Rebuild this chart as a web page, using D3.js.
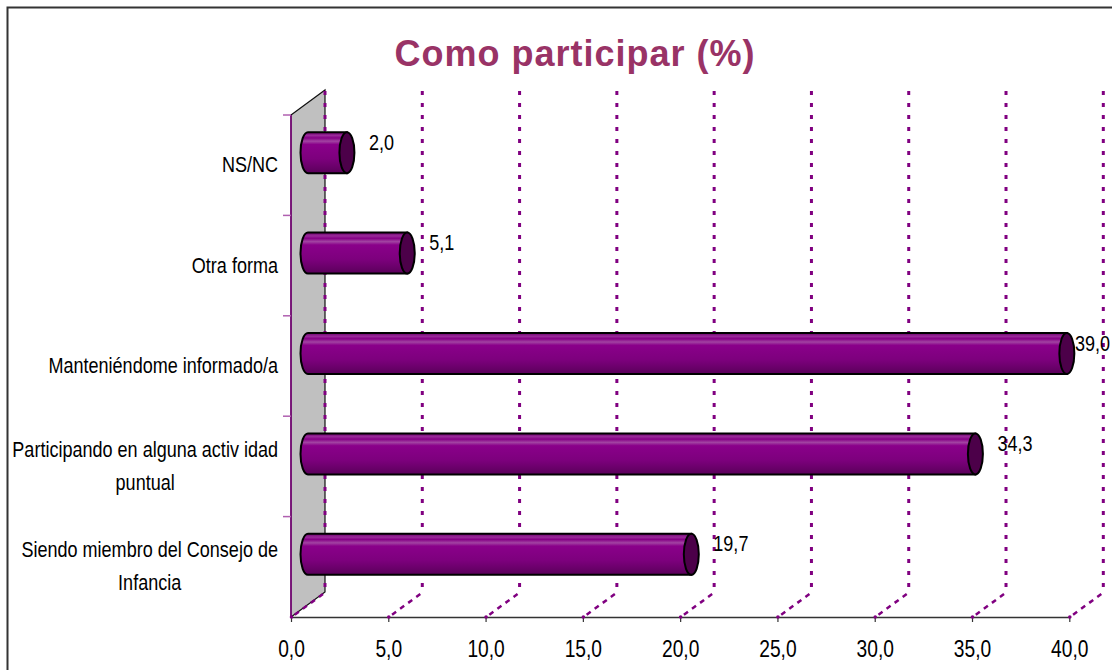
<!DOCTYPE html>
<html>
<head>
<meta charset="utf-8">
<script src="https://cdn.jsdelivr.net/npm/d3@7"></script>
<style>
  body { margin: 0; background: #fff; }
  svg { display: block; font-family: "Liberation Sans", Arial, sans-serif; }
</style>
</head>
<body>
<svg width="1112" height="670"></svg>
<script>
// data, bottom to top as in the spreadsheet
var categories = [
  "Siendo miembro del Consejo de\nInfancia",
  "Participando en alguna activ idad\npuntual",
  "Manteniéndome informado/a",
  "Otra forma",
  "NS/NC"
];
var values = [19.7, 34.3, 39.0, 5.1, 2.0];
var xTicks = [0, 5, 10, 15, 20, 25, 30, 35, 40];
var title = "Como participar (%)";

var svg = d3.select("svg"),
    purple = "#800080",
    depth = {x: 34, y: -25},
    narrow = 0.82;

var locale = d3.formatLocale({decimal: ",", thousands: ".", grouping: [3], currency: ["", "€"]});
var fmt = locale.format(".1f");

var x = d3.scaleLinear().domain([0, 40]).range([291, 1069.3]);
var y = d3.scaleBand().domain(categories.slice().reverse()).range([115, 617]);
var yTop = y.range()[0], yBottom = y.range()[1];

var defs = svg.append("defs");
var grad = defs.append("linearGradient").attr("id", "cyl")
    .attr("x1", 0).attr("y1", 0).attr("x2", 0).attr("y2", 1);
[[0, "#6a006a"], [0.08, "#9a2a9a"], [0.14, "#860086"], [0.22, "#a243a2"], [0.3, "#8a008a"],
 [0.65, "#7d007d"], [1, "#5a005a"]].forEach(function(s) {
  grad.append("stop").attr("offset", s[0]).attr("stop-color", s[1]);
});

// outer frame
svg.append("path").attr("d", "M7.5,670 V7.5 H1112")
    .attr("fill", "none").attr("stroke", "#333").attr("stroke-width", 2);

// title
svg.append("text")
    .attr("x", 575).attr("y", 66)
    .attr("text-anchor", "middle")
    .style("font-weight", "bold").style("font-size", "36px").style("letter-spacing", "1px")
    .attr("fill", "#993366")
    .text(title);

// side wall
svg.append("path")
    .attr("d", "M" + x(0) + "," + yTop + "L" + (x(0) + depth.x) + "," + (yTop + depth.y)
        + "L" + (x(0) + depth.x) + "," + (yBottom + depth.y) + "L" + x(0) + "," + yBottom + "Z")
    .attr("fill", "#c0c0c0").attr("stroke", "#111").attr("stroke-width", 1.2);

// gridlines on the back wall + floor
var grid = svg.append("g");
grid.selectAll(".vgrid").data(xTicks).enter().append("line")
    .attr("x1", function(d) { return x(d) + depth.x; })
    .attr("x2", function(d) { return x(d) + depth.x; })
    .attr("y1", yTop + depth.y + 1).attr("y2", yBottom + depth.y)
    .attr("stroke", purple).attr("stroke-width", 3).attr("stroke-dasharray", "4,8");
grid.selectAll(".fgrid").data(xTicks).enter().append("line")
    .attr("x1", function(d) { return x(d) + depth.x - 2; })
    .attr("x2", function(d) { return x(d) + 2; })
    .attr("y1", yBottom + depth.y + 2).attr("y2", yBottom - 1)
    .attr("stroke", purple).attr("stroke-width", 2.5).attr("stroke-dasharray", "5,5");

// category axis (front left edge)
svg.append("line").attr("x1", x(0)).attr("x2", x(0)).attr("y1", yTop).attr("y2", yBottom)
    .attr("stroke", purple).attr("stroke-width", 1.5);
svg.selectAll(".ctick").data(y.domain()).enter().append("line")
    .attr("x1", x(0) - 8).attr("x2", x(0))
    .attr("y1", function(d) { return y(d); }).attr("y2", function(d) { return y(d); })
    .attr("stroke", "#b060b0").attr("stroke-width", 1.5);

// category labels
svg.selectAll(".clabel").data(categories).enter().append("g")
    .each(function(d) {
      var lines = d.split("\n"),
          g = d3.select(this),
          inner = g.append("g").attr("transform", "scale(" + narrow + ",1)"),
          lh = 33, w = 0;
      lines.forEach(function(l, i) {
        var t = inner.append("text").attr("x", 0).attr("y", i * lh)
            .attr("text-anchor", "middle").style("font-size", "22px").attr("fill", "#000").text(l);
        w = Math.max(w, t.node().getComputedTextLength() * narrow);
      });
      var cy = y(d) + y.bandwidth() / 2 - (lines.length - 1) * lh / 2 + 7;
      g.attr("transform", "translate(" + (278 - w / 2) + "," + cy + ")");
    });

// bars (cylinders on the middle depth plane)
var rx = 7.5, ry = 20.5,
    mid = {x: depth.x / 2, y: depth.y / 2};
var bar = svg.selectAll(".bar").data(values).enter().append("g");
bar.append("path")
    .attr("d", function(d, i) {
      var cy = y(categories[i]) + y.bandwidth() / 2 + mid.y,
          x0 = x(0) + mid.x, x1 = x(d) + mid.x;
      return "M" + x1 + "," + (cy - ry) + "L" + x0 + "," + (cy - ry)
          + "A" + rx + "," + ry + " 0 0 0 " + x0 + "," + (cy + ry)
          + "L" + x1 + "," + (cy + ry) + "Z";
    })
    .attr("fill", "url(#cyl)").attr("stroke", "#000").attr("stroke-width", 2);
bar.append("ellipse")
    .attr("cx", function(d) { return x(d) + mid.x; })
    .attr("cy", function(d, i) { return y(categories[i]) + y.bandwidth() / 2 + mid.y; })
    .attr("rx", rx).attr("ry", ry)
    .attr("fill", "#4c0049").attr("stroke", "#000").attr("stroke-width", 2);

// value labels, kept inside the frame on the right
bar.append("text")
    .style("font-size", "22px").attr("fill", "#000")
    .text(function(d) { return fmt(d); })
    .attr("transform", function(d, i) {
      var cy = y(categories[i]) + y.bandwidth() / 2 + mid.y,
          w = this.getComputedTextLength() * narrow,
          lx = Math.min(x(d) + mid.x + 22, 1110 - w);
      return "translate(" + lx + "," + (cy - 3) + ") scale(" + narrow + ",1)";
    });

// value axis
var axis = svg.append("g").attr("transform", "translate(0," + yBottom + ")")
    .call(d3.axisBottom(x).tickValues(xTicks).tickSize(5).tickSizeOuter(0).tickFormat(fmt));
axis.select(".domain").attr("stroke", "#333").attr("stroke-width", 1.5);
axis.selectAll(".tick line").attr("stroke", "#333").attr("stroke-width", 1.2);
axis.selectAll(".tick").append("circle").attr("r", 1.8).attr("fill", purple);
axis.selectAll(".tick text")
    .attr("y", 40).attr("dy", 0)
    .attr("transform", "scale(0.8,1)")
    .style("font-size", "24px").style("font-family", "'Liberation Sans', Arial, sans-serif")
    .attr("fill", "#000");
</script>
</body>
</html>
